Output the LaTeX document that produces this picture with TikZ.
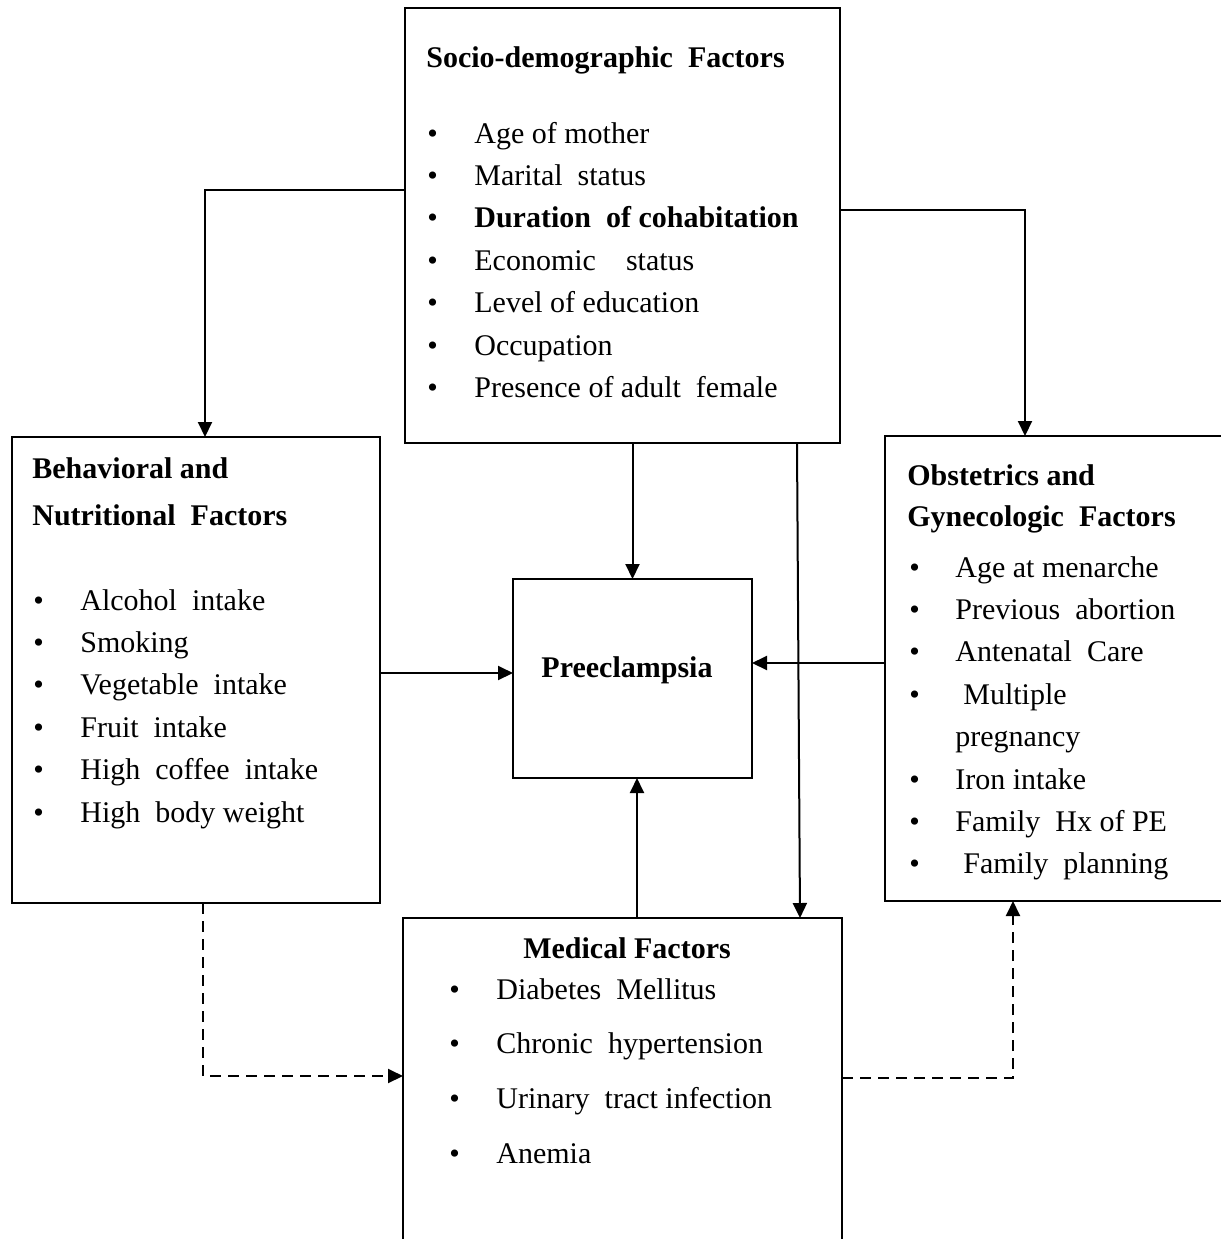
\documentclass[tikz,border=0pt]{standalone}
\usepackage{fontspec}
\setmainfont{Liberation Serif}
\usetikzlibrary{arrows.meta}

\begin{document}
\begin{tikzpicture}[x=0.5pt,y=-0.5pt,
  box/.style={draw,line width=1pt,inner sep=0pt,outer sep=0pt},
  txt/.style={inner sep=0pt,anchor=base west},
  arr/.style={line width=1pt,-{Triangle[length=7.5pt,width=7pt]}},
  dsh/.style={arr,dash pattern=on 5.5pt off 3.5pt},
  font=\fontsize{15}{21.2}\selectfont]
\useasboundingbox (0,0) rectangle (1221,1239);
\clip (0,0) rectangle (1221,1239);

% boxes
\node[box,minimum width=217.5pt,minimum height=217.5pt] (socio) at (622.5,225.5) {};
\node[box,minimum width=184pt,minimum height=233pt]     (behav) at (196,670) {};
\node[box,minimum width=180pt,minimum height=232.5pt]   (obst)  at (1065,668.5) {};
\node[box,minimum width=119.5pt,minimum height=99.5pt]  (pre)   at (632.5,678.5) {};
\node[box,minimum width=219.5pt,minimum height=176pt]   (med)   at (622.5,1094) {};

% texts
\node[txt] (socio-h) at (426,67) {\textbf{Socio-demographic\ \ Factors}};
\node[txt] (socio-l) at (427,143) {\begin{tabular}[t]{@{}p{23.5pt}@{}l@{}}
  \textbullet & Age of mother\\
  \textbullet & Marital\ \ status\\
  \textbullet & \textbf{Duration\ \ of cohabitation}\\
  \textbullet & Economic\ \ \ \ status\\
  \textbullet & Level of education\\
  \textbullet & Occupation\\
  \textbullet & Presence of adult\ \ female
\end{tabular}};

\node[txt] (behav-h) at (32,478) {\renewcommand{\arraystretch}{1.11}\begin{tabular}[t]{@{}l@{}}
  \textbf{Behavioral and}\\
  \textbf{Nutritional\ \ Factors}
\end{tabular}};
\node[txt] (behav-l) at (33,610) {\begin{tabular}[t]{@{}p{23.5pt}@{}l@{}}
  \textbullet & Alcohol\ \ intake\\
  \textbullet & Smoking\\
  \textbullet & Vegetable\ \ intake\\
  \textbullet & Fruit\ \ intake\\
  \textbullet & High\ \ coffee\ \ intake\\
  \textbullet & High\ \ body weight
\end{tabular}};

\node[txt] (obst-h) at (907,485) {\renewcommand{\arraystretch}{0.967}\begin{tabular}[t]{@{}l@{}}
  \textbf{Obstetrics and}\\
  \textbf{Gynecologic\ \ Factors}
\end{tabular}};
\node[txt] (obst-l) at (909,577) {\begin{tabular}[t]{@{}p{23pt}@{}l@{}}
  \textbullet & Age at menarche\\
  \textbullet & Previous\ \ abortion\\
  \textbullet & Antenatal\ \ Care\\
  \textbullet & \hspace{4pt}Multiple\\
              & pregnancy\\
  \textbullet & Iron intake\\
  \textbullet & Family\ \ Hx of PE\\
  \textbullet & \hspace{4pt}Family\ \ planning
\end{tabular}};

\node[inner sep=0pt,anchor=base] (pre-t) at (627,677) {\textbf{Preeclampsia}};

\node[inner sep=0pt,anchor=base] (med-h) at (627,958) {\textbf{Medical Factors}};
\node[txt] (med-l) at (449,999) {\renewcommand{\arraystretch}{1.29}\begin{tabular}[t]{@{}p{23.5pt}@{}l@{}}
  \textbullet & Diabetes\ \ Mellitus\\
  \textbullet & Chronic\ \ hypertension\\
  \textbullet & Urinary\ \ tract infection\\
  \textbullet & Anemia
\end{tabular}};

% connectors
\draw[arr] (socio.west |- 0,190) -| (behav.north -| 205,0);
\draw[arr] (socio.east |- 0,210) -| (obst.north -| 1025,0);
\draw[arr] (socio.south -| pre.north) -- (pre.north);
\draw[arr] (socio.south -| 797,0) -- (med.north -| 800,0);
\draw[arr] (behav.east |- 0,673) -- (pre.west |- 0,673);
\draw[arr] (obst.west |- 0,663) -- (pre.east |- 0,663);
\draw[arr] (med.north -| 637,0) -- (pre.south -| 637,0);
\draw[dsh] (behav.south -| 203,0) |- (med.west |- 0,1076);
\draw[dsh] (med.east |- 0,1078) -| (obst.south -| 1013,0);
\end{tikzpicture}
\end{document}
